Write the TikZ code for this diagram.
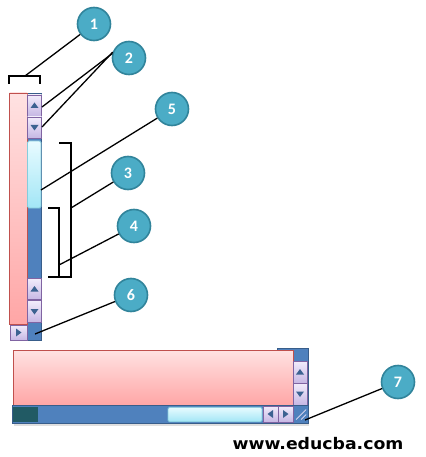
\documentclass[tikz,border=0pt]{standalone}
\usepackage{fontspec}
\newfontfamily\callfont{Carlito}
\newfontfamily\urlfont{DejaVu Sans}
\usetikzlibrary{calc}
\definecolor{redb}{HTML}{C0504D}
\definecolor{redt}{HTML}{FFE2E2}
\definecolor{redbt}{HTML}{FFA6A6}
\definecolor{btnb}{HTML}{8064A2}
\definecolor{btnt}{HTML}{F2ECFB}
\definecolor{btnbt}{HTML}{C6B7E4}
\definecolor{trk}{HTML}{4F81BD}
\definecolor{trkb}{HTML}{385D8A}
\definecolor{thb}{HTML}{86CCDC}
\definecolor{tht}{HTML}{E8FBFF}
\definecolor{thbt}{HTML}{A2E6F6}
\definecolor{arc}{HTML}{3C6291}
\definecolor{callf}{HTML}{4BACC6}
\definecolor{callb}{HTML}{31849B}
\definecolor{darkteal}{HTML}{215A64}
\tikzset{
  box/.style={rectangle, inner sep=0pt, outer sep=0pt},
  redbox/.style={box, draw=redb, line width=0.9pt, top color=redt, bottom color=redbt},
  btn/.style={box, draw=btnb, line width=0.8pt, top color=btnt, bottom color=btnbt},
  track/.style={box, draw=trkb, line width=0.8pt, fill=trk},
  thumb/.style={box, draw=thb, line width=0.8pt, rounded corners=1.5pt, top color=tht, bottom color=thbt},
  arrowc/.style={fill=arc},
  callout/.style={circle, fill=callf, draw=callb, line width=1.6pt, minimum size=33pt, inner sep=0pt,
    text=white, font=\callfont\bfseries\fontsize{16}{16}\selectfont},
  lead/.style={draw=black, line width=1.3pt},
  brk/.style={draw=black, line width=1.3pt}
}
\newcommand\uparr[1]{\fill[arrowc] ([shift={(-4,2.5)}]#1) -- ++(8,0) -- ++(-4,-5.5) -- cycle;}
\newcommand\dnarr[1]{\fill[arrowc] ([shift={(-4,-2.5)}]#1) -- ++(8,0) -- ++(-4,5.5) -- cycle;}
\newcommand\rtarr[1]{\fill[arrowc] ([shift={(-2.5,-4)}]#1) -- ++(0,8) -- ++(5.5,-4) -- cycle;}
\newcommand\ltarr[1]{\fill[arrowc] ([shift={(2.5,-4)}]#1) -- ++(0,8) -- ++(-5.5,-4) -- cycle;}
\begin{document}
\begin{tikzpicture}[x=1pt, y=-1pt]
\useasboundingbox (0,0) rectangle (425,457);
\fill[white] (0,0) rectangle (425,457);

% ---------- upper vertical scrollbar ----------
\node[track, minimum width=14.5pt, minimum height=247pt] (colbg) at (34.5,216.5) {};
\node[redbox, minimum width=17.5pt, minimum height=231pt] (redv) at (18.25,208.5) {};
\node[btn, minimum width=14pt, minimum height=21pt] (up1) at (34.5,105.5) {};
\node[btn, minimum width=14pt, minimum height=21pt] (dn1) at (34.5,127.5) {};
\node[thumb, minimum width=13.5pt, minimum height=67pt] (th1) at (34.3,174.5) {};
\node[btn, minimum width=14pt, minimum height=21.5pt] (up2) at (34.5,289) {};
\node[btn, minimum width=14pt, minimum height=21.5pt] (dn2) at (34.5,311.5) {};
\node[btn, minimum width=17pt, minimum height=15pt] (rb1) at (18.5,332.5) {};
\uparr{up1.center}
\dnarr{dn1.center}
\uparr{up2.center}
\dnarr{dn2.center}
\rtarr{rb1.center}

% brackets
\coordinate (b1a) at (9,84);
\coordinate (b1b) at (9,76);
\coordinate (b1c) at (40,76);
\coordinate (b1d) at (40,84);
\coordinate (b1m) at (25,76);
\draw[brk] (b1a) -- (b1b) -- (b1c) -- (b1d);
\coordinate (b3a) at (59,143);
\coordinate (b3b) at (71,143);
\coordinate (b3c) at (71,277);
\coordinate (b3d) at (48,277);
\coordinate (b3m) at (71,208);
\draw[brk] (b3a) -- (b3b) -- (b3c) -- (b3d);
\coordinate (b4a) at (48,208);
\coordinate (b4b) at (59,208);
\coordinate (b4c) at (59,277);
\coordinate (b4m) at (59,265);
\draw[brk] (b4a) -- (b4b) -- (b4c);

% ---------- lower horizontal ----------
\fill[gray!25] (14,423) rectangle (309,426);
\node[track, minimum width=31pt, minimum height=57pt] (vbg) at (292.5,377) {};
\node[redbox, minimum width=280pt, minimum height=55pt] (redh) at (153,377.5) {};
\node[btn, minimum width=14pt, minimum height=22pt] (vup) at (300,372) {};
\node[btn, minimum width=14pt, minimum height=22pt] (vdn) at (300,394) {};
\node[track, minimum width=296pt, minimum height=18pt] (hbar) at (160,414) {};
\node[box, fill=darkteal, minimum width=25pt, minimum height=14.5pt] (dsq) at (25.5,414.5) {};
\node[thumb, minimum width=94pt, minimum height=14.5pt] (th2) at (215,414.5) {};
\node[btn, minimum width=15pt, minimum height=16pt] (lb) at (270.5,414) {};
\node[btn, minimum width=15pt, minimum height=16pt] (rb2) at (285.5,414) {};
\node[box, minimum width=15pt, minimum height=17pt] (grip) at (300.5,414) {};
\uparr{vup.center}
\dnarr{vdn.center}
\ltarr{lb.center}
\rtarr{rb2.center}
\draw[btnt!80!btnbt, line width=0.7pt] ([shift={(-4.5,5.5)}]grip.center) -- ++(10,-10);
\draw[btnt!80!btnbt, line width=0.7pt] ([shift={(0.5,5.5)}]grip.center) -- ++(5,-5);
\coordinate (gripend) at (305,420);
\coordinate (corner6) at (35,334);
\coordinate (th1pt) at (41,190);
\coordinate (up1pt) at (42,107);
\coordinate (dn1pt) at (42,127);

% ---------- callouts ----------
\node[callout] (c1) at (94,24) {1};
\node[callout] (c2) at (129,58) {2};
\node[callout] (c5) at (172,109) {5};
\node[callout] (c3) at (128,173) {3};
\node[callout] (c4) at (134,226) {4};
\node[callout] (c6) at (131,295) {6};
\node[callout] (c7) at (398,382) {7};

\draw[lead] (b1m) -- (c1);
\draw[lead] (up1pt) -- (c2.165);
\draw[lead] (dn1pt) -- (c2.160);
\draw[lead] (th1pt) -- (c5);
\draw[lead] (b3m) -- (c3);
\draw[lead] (b4m) -- (c4);
\draw[lead] (corner6) -- (c6);
\draw[lead] (gripend) -- (c7);

\node[font=\urlfont\bfseries\fontsize{16}{16}\selectfont, inner sep=0pt, anchor=base, xscale=1.08, transform shape] (url) at (318,449) {www.educba.com};
\end{tikzpicture}
\end{document}
